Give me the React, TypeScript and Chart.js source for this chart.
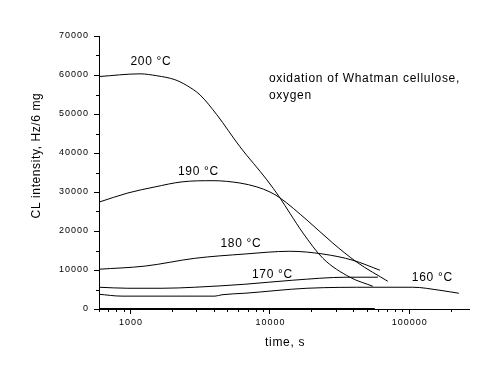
import React, { useEffect, useRef } from "react";
import { Chart, registerables } from "chart.js";

Chart.register(...registerables);

// ---- data ----
const times200 = [600, 1180, 1560, 2100, 2560, 3180, 4200, 6150, 9600, 11900, 14000, 17400, 24200, 37800, 55200];
const cl200 = [59600, 60300, 59800, 58800, 57300, 54900, 49800, 41600, 33100, 28500, 24600, 19500, 13000, 8150, 5830];

const times190 = [600, 967, 1510, 2360, 3940, 6150, 8140, 10100, 11900, 18600, 28500, 42400, 70700];
const cl190 = [27400, 29750, 31300, 32600, 32900, 32300, 31300, 30000, 28500, 22800, 16900, 12000, 7100];

const times180 = [600, 1280, 2920, 6670, 14000, 24200, 39700, 62000];
const cl180 = [10200, 11000, 13000, 14100, 14800, 14100, 12500, 9950];

const times170 = [600, 967, 1700, 2920, 6670, 14700, 36000, 60000];
const cl170 = [5580, 5320, 5320, 5580, 6350, 7380, 8150, 8150];

const times160 = [600, 877, 4070, 4570, 6670, 18600, 55200, 106800, 166800, 228200];
const cl160 = [3780, 3300, 3300, 3650, 4040, 5320, 5580, 5580, 4800, 4040];

const timesBase = [600, 57000];
const clBase = [0, 0];

const yTickValues = [0, 10000, 20000, 30000, 40000, 50000, 60000, 70000];
const xTickValues = [1000, 10000, 100000];

const curveLabels = ["200 °C", "190 °C", "180 °C", "170 °C", "160 °C"];
const curveLabelX = [1414, 3097, 6248, 10510, 147400];
const curveLabelY = [63430, 35150, 16630, 8840, 8070];

const noteLines = ["oxidation of Whatman cellulose,", "oxygen"];
const noteX = [9918, 9918];
const noteY = [59060, 54690];

const xTitle = "time, s";
const yTitle = "CL intensity, Hz/6 mg";

const FONT = '"Liberation Sans", Arial, sans-serif';

function pts(xs: number[], ys: number[]) {
  return xs.map((x, i) => ({ x, y: ys[i] }));
}

const decorPlugin = {
  id: "decor",
  afterDraw(chart: any) {
    const ctx: CanvasRenderingContext2D = chart.ctx;
    const xs = chart.scales.x;
    const ys = chart.scales.y;
    const area = chart.chartArea;
    ctx.save();
    ctx.strokeStyle = "#000";
    ctx.fillStyle = "#000";
    ctx.lineWidth = 1;
    // y ticks (major + minor)
    ctx.beginPath();
    for (let v = 0; v <= 70000; v += 5000) {
      const py = Math.round(ys.getPixelForValue(v)) + 0.5;
      const len = v % 10000 === 0 ? 5 : 3;
      ctx.moveTo(area.left - len, py);
      ctx.lineTo(area.left, py);
    }
    // x ticks (log)
    for (let d = 100; d <= 100000; d *= 10) {
      for (let m = 1; m <= 9; m++) {
        const v = m * d;
        if (v < xs.min || v > xs.max) continue;
        const px = Math.round(xs.getPixelForValue(v)) + 0.5;
        const len = m === 1 ? 5 : 3;
        ctx.moveTo(px, area.bottom);
        ctx.lineTo(px, area.bottom + len);
      }
    }
    ctx.stroke();

    const setFont = (size: number, spacing: string) => {
      ctx.font = `${size}px ${FONT}`;
      (ctx as any).letterSpacing = spacing;
    };

    // tick labels
    setFont(9, "1px");
    ctx.textAlign = "right";
    ctx.textBaseline = "middle";
    yTickValues.forEach((v) => {
      ctx.fillText(String(v), area.left - 10, ys.getPixelForValue(v));
    });
    ctx.textAlign = "center";
    ctx.textBaseline = "middle";
    xTickValues.forEach((v) => {
      ctx.fillText(String(v), xs.getPixelForValue(v) + 1, area.bottom + 14);
    });

    // axis titles
    setFont(12, "0.7px");
    ctx.textAlign = "center";
    ctx.textBaseline = "middle";
    ctx.fillText(xTitle, (xs.getPixelForValue(10000) + xs.getPixelForValue(100000)) / 2 - 54, area.bottom + 34);
    ctx.save();
    ctx.translate(area.left - 62, (area.top + area.bottom) / 2 - 17);
    ctx.rotate(-Math.PI / 2);
    setFont(12, "0.6px");
    ctx.fillText(yTitle, 0, 0);
    ctx.restore();

    // curve labels
    setFont(12, "0.7px");
    ctx.textAlign = "center";
    ctx.textBaseline = "middle";
    curveLabels.forEach((t, i) => {
      ctx.fillText(t, xs.getPixelForValue(curveLabelX[i]), ys.getPixelForValue(curveLabelY[i]));
    });
    // note
    ctx.textAlign = "left";
    noteLines.forEach((t, i) => {
      ctx.fillText(t, xs.getPixelForValue(noteX[i]), ys.getPixelForValue(noteY[i]));
    });
    ctx.restore();
  },
};

export default function App() {
  const ref = useRef<HTMLCanvasElement | null>(null);
  useEffect(() => {
    document.body.style.margin = "0";
    const canvas = ref.current;
    if (!canvas) return;
    const line = (xs: number[], ys: number[], w = 1) => ({
      data: pts(xs, ys),
      borderColor: "#000",
      borderWidth: w,
      pointRadius: 0,
      fill: false,
      cubicInterpolationMode: "monotone" as const,
    });
    const chart = new Chart(canvas, {
      type: "line",
      data: {
        datasets: [
          line(times200, cl200),
          line(times190, cl190),
          line(times180, cl180),
          line(times170, cl170),
          line(times160, cl160),
          line(timesBase, clBase, 2),
        ],
      },
      options: {
        animation: false,
        responsive: false,
        events: [],
        layout: { padding: { top: 36, right: 29, left: 0, bottom: 0 } },
        plugins: { legend: { display: false }, tooltip: { enabled: false } },
        scales: {
          x: {
            type: "logarithmic",
            min: 600,
            max: 270000,
            grid: { display: false },
            ticks: { display: false },
            border: { display: true, color: "#000", width: 1 },
            afterFit: (s: any) => {
              s.height = 70;
            },
          },
          y: {
            type: "linear",
            min: 0,
            max: 70000,
            grid: { display: false },
            ticks: { display: false },
            border: { display: true, color: "#000", width: 1 },
            afterFit: (s: any) => {
              s.width = 99;
            },
          },
        },
      },
      plugins: [decorPlugin],
    });
    return () => chart.destroy();
  }, []);
  return (
    <div style={{ width: 498, height: 379, background: "#fff" }}>
      <canvas ref={ref} width={498} height={379} />
    </div>
  );
}
